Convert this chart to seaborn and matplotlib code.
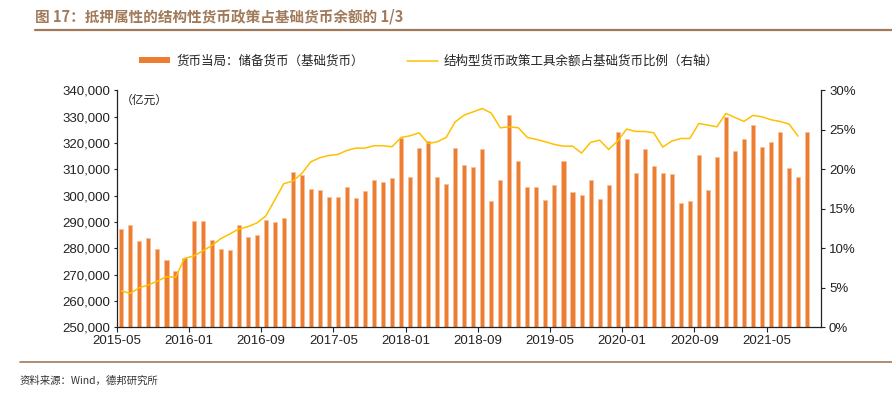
"""
图17：抵押属性的结构性货币政策占基础货币余额比例
"""
import numpy as np
import pandas as pd
import matplotlib
matplotlib.use('Agg')
import matplotlib.pyplot as plt
import matplotlib.ticker as mticker
import seaborn as sns

sns.set_style('white')
plt.rcParams['font.family'] = ['Liberation Sans', 'Noto Sans CJK SC', 'DejaVu Sans']
plt.rcParams['axes.unicode_minus'] = False

# 月份：2015-05 至 2021-10（最後一個月暫無數據）
months = pd.period_range('2015-05', '2021-10', freq='M').strftime('%Y-%m').tolist()

# 貨幣當局：儲備貨幣（億元）
base_money = [287300, 288900, 282900, 283800, 279700, 275600, 271500, 276300, 290300, 290300,
              283300, 279700, 279200, 288900, 284200, 285100, 290600, 290100, 291500, 309000,
              307700, 302500, 302200, 299400, 299400, 303500, 299000, 301800, 305800, 305300,
              306700, 322000, 307200, 318200, 320900, 307200, 304400, 318200, 311800, 310900,
              317700, 298000, 305800, 330600, 313200, 303500, 303500, 298400, 304100, 313200,
              301300, 300300, 305800, 298900, 304100, 324200, 321500, 308600, 317700, 311400,
              308600, 308100, 297200, 298000, 315400, 302000, 314700, 330100, 317000, 321500,
              327000, 318700, 320500, 324200, 310400, 307200, 324200, np.nan]

# 結構型貨幣政策工具餘額佔基礎貨幣比例（%）
ratio_pct = [4.60, 4.30, 5.02, 5.36, 5.86, 6.41, 6.33, 8.73, 9.03, 9.66,
             10.34, 11.22, 11.81, 12.45, 12.74, 13.21, 14.09, 16.12, 18.19, 18.52,
             19.49, 20.97, 21.48, 21.77, 21.90, 22.41, 22.70, 22.70, 23.00, 23.00,
             22.87, 24.05, 24.26, 24.64, 23.29, 23.50, 24.05, 26.03, 26.88, 27.30,
             27.72, 27.13, 25.27, 25.40, 25.27, 24.05, 23.80, 23.50, 23.16, 22.95,
             22.95, 22.07, 23.42, 23.71, 22.53, 23.59, 25.11, 24.81, 24.81, 24.64,
             22.83, 23.59, 23.92, 23.92, 25.82, 25.61, 25.40, 27.09, 26.58, 26.08,
             26.84, 26.67, 26.29, 26.08, 25.74, 24.22, np.nan, np.nan]

xtick_labels = ['2015-05', '2016-01', '2016-09', '2017-05', '2018-01',
                '2018-09', '2019-05', '2020-01', '2020-09', '2021-05']

legend_labels = ['货币当局：储备货币（基础货币）', '结构型货币政策工具余额占基础货币比例（右轴）']

bar_color = '#ED7D31'
line_color = '#FFC000'
brown = '#A07A5A'

df = pd.DataFrame({'month': months, 'base': base_money, 'ratio': np.array(ratio_pct) / 100})
df['pos'] = np.arange(len(df))

fig = plt.figure(figsize=(8.92, 3.96), dpi=100)
ax = fig.add_axes([0.131, 0.1735, 0.789, 0.598])

sns.barplot(data=df, x='pos', y='base', color=bar_color, saturation=1, width=0.45,
            errorbar=None, ax=ax, edgecolor='#F6C09A', linewidth=0.5)
ax.set_xlim(-0.5, len(df) - 0.5)
ax.set_ylim(250000, 340000)
ax.yaxis.set_major_locator(mticker.MultipleLocator(10000))
ax.yaxis.set_major_formatter(mticker.FuncFormatter(lambda v, p: f'{v:,.0f}'))
ax.set_xlabel('')
ax.set_ylabel('')

tick_pos = [months.index(m) - 0.5 for m in xtick_labels]
ax.set_xticks(tick_pos)
ax.set_xticklabels(xtick_labels)

ax2 = ax.twinx()
sns.lineplot(data=df, x='pos', y='ratio', color=line_color, linewidth=1.1, ax=ax2, legend=False)
ax2.set_ylim(0, 0.30)
ax2.yaxis.set_major_locator(mticker.MultipleLocator(0.05))
ax2.yaxis.set_major_formatter(mticker.FuncFormatter(lambda v, p: f'{v * 100:.0f}%'))
ax2.set_ylabel('')
ax2.set_xlim(-0.5, len(df) - 0.5)

for a in (ax, ax2):
    a.spines['top'].set_visible(False)
    for s in a.spines.values():
        s.set_color('#222222')
        s.set_linewidth(0.9)
    a.tick_params(colors='#222222', labelsize=9.5)
    if a.get_legend() is not None:
        a.get_legend().remove()
ax.spines['right'].set_visible(False)
ax2.spines['left'].set_visible(False)
ax2.spines['bottom'].set_visible(False)
ax.tick_params(axis='y', direction='out', length=2.5, width=0.8, pad=2, left=True)
ax.tick_params(axis='x', direction='out', length=3.5, width=0.8, pad=2, bottom=True)
ax2.tick_params(axis='y', direction='out', length=3, width=0.8, pad=3, right=True)
ax.grid(False)
ax2.grid(False)

ax.text(0.005, 0.985, '（亿元）', transform=ax.transAxes, ha='left', va='top',
        fontsize=8.5, color='#222222', family=['Noto Sans CJK SC'])

# 圖例
handles = [ax.containers[0].patches[0], ax2.lines[0]]
leg = fig.legend(handles, legend_labels, loc='center', bbox_to_anchor=(0.481, 0.846), ncol=2,
                 frameon=False, handlelength=2.5, handleheight=0.45,
                 columnspacing=3.4, handletextpad=0.5,
                 prop={'family': ['Noto Sans CJK SC'], 'size': 9})
for t in leg.get_texts():
    t.set_color('#222222')
leg.legend_handles[0].set_edgecolor('none')

# 標題與來源
fig.text(0.039, 0.958, '图 17：抵押属性的结构性货币政策占基础货币余额的 1/3', ha='left', va='center',
         fontsize=10.5, fontweight='bold', color=brown,
         family=['Noto Sans CJK SC', 'DejaVu Sans'])
fig.add_artist(plt.Line2D([0.039, 1.0], [0.925, 0.925], transform=fig.transFigure,
                          color=brown, linewidth=1.6))
fig.add_artist(plt.Line2D([0.022, 1.0], [0.087, 0.087], transform=fig.transFigure,
                          color=brown, linewidth=1.2))
fig.text(0.022, 0.038, '资料来源：Wind，德邦研究所', ha='left', va='center',
         fontsize=7.5, color='#333333', family=['Noto Sans CJK SC', 'DejaVu Sans'])

fig.savefig('out.png', dpi=100)
plt.close(fig)
